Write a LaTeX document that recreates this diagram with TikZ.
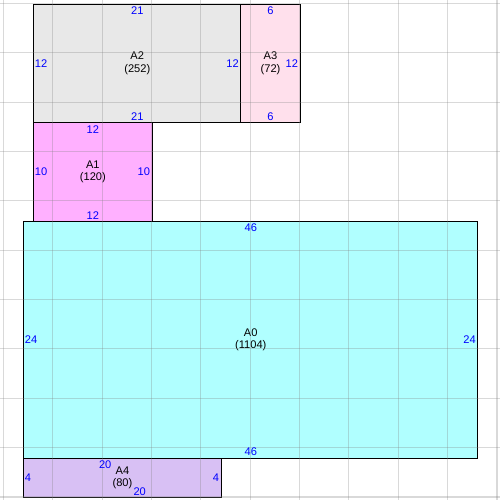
\documentclass[tikz,border=0pt]{standalone}
\usepackage{fontspec}
\setmainfont{Liberation Sans}
\usetikzlibrary{positioning}
\definecolor{fillA0}{RGB}{176,255,255}
\definecolor{fillA1}{RGB}{255,176,255}
\definecolor{fillA2}{RGB}{232,232,232}
\definecolor{fillA3}{RGB}{255,224,236}
\definecolor{fillA4}{RGB}{216,192,244}

\begin{document}
\begin{tikzpicture}[font=\fontsize{6.4}{7.2}\selectfont,
  area/.style={draw, line width=0.6pt, inner sep=0pt, anchor=north west, align=center},
  dim/.style={text=blue, inner sep=0.8pt},
  gridline/.style={gray, opacity=0.3, line width=0.6pt}]
  \useasboundingbox (-0.071,0.071) rectangle (10.061,-10.061);

  \node[area, fill=fillA2, minimum width=4.2cm, minimum height=2.4cm] (A2) at (0.6,0) {A2\\(252)};
  \node[area, fill=fillA3, minimum width=1.2cm, minimum height=2.4cm] (A3) at (4.8,0) {A3\\(72)};
  \node[area, fill=fillA1, minimum width=2.4cm, minimum height=2cm] (A1) at (0.6,-2.4) {A1\\(120)};
  \node[area, fill=fillA0, minimum width=9.2cm, minimum height=4.8cm] (A0) at (0.4,-4.4) {A0\\(1104)};
  \node[area, fill=fillA4, minimum width=4cm, minimum height=0.8cm] (A4) at (0.4,-9.2) {A4\\(80)};

  % grid
  \foreach \i in {0,...,10} {
    \draw[gridline] (\i,0.071) -- (\i,-10.061);
    \draw[gridline] (-0.071,-\i) -- (10.061,-\i);
  }

  % side lengths
  \node[dim, below=1pt of A2.north] (A2t) {21};
  \node[dim, above=0.5pt of A2.south] (A2b) {21};
  \node[dim, right=0pt of A2.west] (A2l) {12};
  \node[dim, left=0.5pt of A2.east] (A2r) {12};

  \node[dim, below=1pt of A3.north] (A3t) {6};
  \node[dim, above=0.5pt of A3.south] (A3b) {6};
  \node[dim, left=0.5pt of A3.east] (A3r) {12};

  \node[dim, below=1pt of A1.north] (A1t) {12};
  \node[dim, above=0.5pt of A1.south] (A1b) {12};
  \node[dim, right=0pt of A1.west] (A1l) {10};
  \node[dim, left=0.5pt of A1.east] (A1r) {10};

  \node[dim, below=1pt of A0.north] (A0t) {46};
  \node[dim, above=0.5pt of A0.south] (A0b) {46};
  \node[dim, right=0pt of A0.west] (A0l) {24};
  \node[dim, left=0.5pt of A0.east] (A0r) {24};

  \node[dim, below=1pt of A4.north, xshift=-0.35cm] (A4t) {20};
  \node[dim, above=0.5pt of A4.south, xshift=0.35cm] (A4b) {20};
  \node[dim, right=0pt of A4.west] (A4l) {4};
  \node[dim, left=0.5pt of A4.east] (A4r) {4};
\end{tikzpicture}
\end{document}
